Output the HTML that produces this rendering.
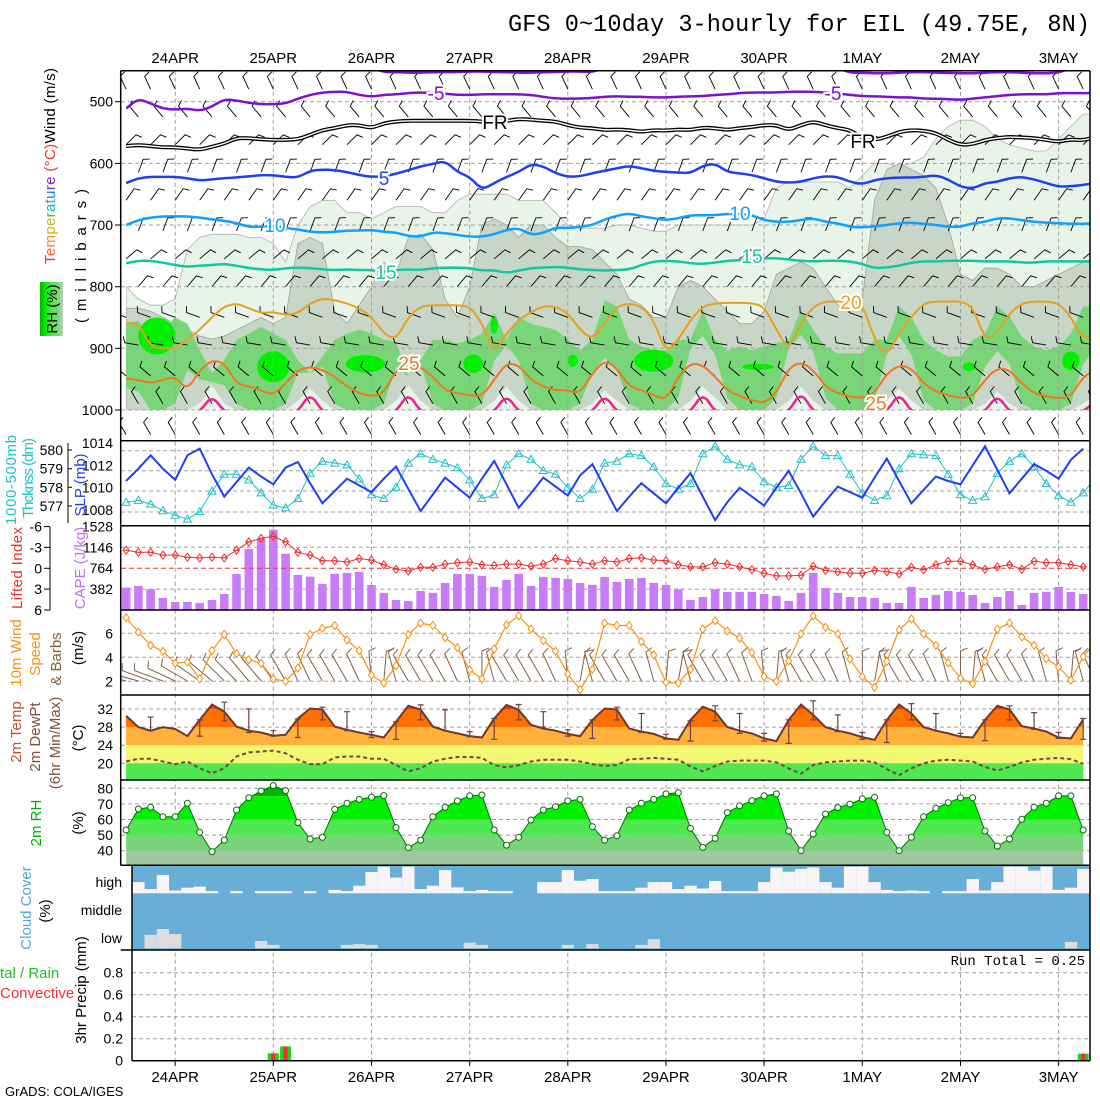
<!DOCTYPE html>
<html><head><meta charset="utf-8">
<style>
html,body{margin:0;padding:0;background:#fff;}
svg{display:block;font-family:"Liberation Sans",sans-serif;}
.tk{font-size:14px;fill:#000;}
.lab{font-size:15px;}
</style></head>
<body>
<svg id="chart" width="1100" height="1100" viewBox="0 0 1100 1100" xmlns="http://www.w3.org/2000/svg">
<defs>
<clipPath id="cMain"><rect x="126" y="70.7" width="964" height="339.3"/></clipPath>
<clipPath id="cMainB"><rect x="121" y="70.7" width="969" height="369.8"/></clipPath>
<clipPath id="cP2"><rect x="121" y="440.7" width="969" height="85"/></clipPath>
<clipPath id="cP4"><rect x="121" y="610" width="969" height="85"/></clipPath>
<clipPath id="cTemp"><path id="tempClipPath" d=""/></clipPath>
<clipPath id="cRH"><path id="rhClipPath" d=""/></clipPath>
<linearGradient id="rhGrad" x1="0" x2="1" y1="0" y2="0">
<stop offset="0" stop-color="#00b400"/><stop offset="0.25" stop-color="#00f000"/><stop offset="0.5" stop-color="#50e850"/><stop offset="0.75" stop-color="#78d478"/><stop offset="1" stop-color="#b8d0b8"/>
</linearGradient>
</defs>

<text x="1090" y="31" text-anchor="end" font-family="Liberation Mono, monospace" font-size="23.6" textLength="582">GFS 0~10day 3-hourly for EIL (49.75E, 8N)</text>

<g id="mainFill" clip-path="url(#cMain)"></g>
<g id="grid"></g>
<g id="mainBarbs" clip-path="url(#cMainB)"></g>
<g id="mainCont" clip-path="url(#cMain)"></g>
<g id="panels"></g>
<g id="frames"></g>
<g id="ticks"></g>

<text class="lab" transform="translate(55,166) rotate(-90)" text-anchor="middle" textLength="196"><tspan fill="#f03020">T</tspan><tspan fill="#f86020">e</tspan><tspan fill="#f89020">m</tspan><tspan fill="#e0b020">p</tspan><tspan fill="#c0c020">e</tspan><tspan fill="#40c040">r</tspan><tspan fill="#10c0a0">a</tspan><tspan fill="#10b0e0">t</tspan><tspan fill="#2070f0">u</tspan><tspan fill="#6040e0">r</tspan><tspan fill="#9020d0">e</tspan><tspan fill="#f03030"> (°C)</tspan><tspan fill="#000">Wind (m/s)</tspan></text>
<text class="lab" transform="translate(86,256) rotate(-90)" text-anchor="middle" textLength="134">(millibars)</text>
<rect x="40" y="282" width="23" height="54" fill="url(#rhGrad)"/>
<text class="lab" transform="translate(57,309) rotate(-90)" text-anchor="middle">RH (%)</text>

<text class="lab" fill="#20c0c8" transform="translate(16,480) rotate(-90)" text-anchor="middle" textLength="90">1000-500mb</text>
<text class="lab" fill="#20c0c8" transform="translate(33,478) rotate(-90)" text-anchor="middle" textLength="80">Thcknss (dm)</text>
<text class="lab" fill="#2040f0" transform="translate(85,485) rotate(-90)" text-anchor="middle">SLP (mb)</text>
<text class="lab" fill="#f03030" transform="translate(22,568) rotate(-90)" text-anchor="middle" textLength="82">Lifted Index</text>
<text class="lab" fill="#c070f0" transform="translate(85,568) rotate(-90)" text-anchor="middle">CAPE (J/kg)</text>
<text class="lab" fill="#f89010" transform="translate(21,653) rotate(-90)" text-anchor="middle">10m Wind</text>
<text class="lab" fill="#f89010" transform="translate(40,654) rotate(-90)" text-anchor="middle">Speed</text>
<text class="lab" fill="#806040" transform="translate(61,659) rotate(-90)" text-anchor="middle">&amp; Barbs</text>
<text class="lab" transform="translate(83,648) rotate(-90)" text-anchor="middle">(m/s)</text>
<text class="lab" fill="#c05030" transform="translate(21,732) rotate(-90)" text-anchor="middle">2m Temp</text>
<text class="lab" fill="#805040" transform="translate(40,737) rotate(-90)" text-anchor="middle">2m DewPt</text>
<text class="lab" fill="#805040" transform="translate(60,743) rotate(-90)" text-anchor="middle">(6hr Min/Max)</text>
<text class="lab" transform="translate(83,738) rotate(-90)" text-anchor="middle">(°C)</text>
<text class="lab" fill="#00b000" transform="translate(41,823) rotate(-90)" text-anchor="middle">2m RH</text>
<text class="lab" transform="translate(83,823) rotate(-90)" text-anchor="middle">(%)</text>
<text class="lab" fill="#50a8d8" transform="translate(31,908) rotate(-90)" text-anchor="middle">Cloud Cover</text>
<text class="lab" transform="translate(50,911) rotate(-90)" text-anchor="middle">(%)</text>
<text class="tk" x="122" y="887" text-anchor="end" font-size="15">high</text>
<text class="tk" x="122" y="915" text-anchor="end" font-size="15">middle</text>
<text class="tk" x="122" y="943" text-anchor="end" font-size="15">low</text>
<text class="lab" transform="translate(86,990) rotate(-90)" text-anchor="middle">3hr Precip (mm)</text>
<text class="lab" fill="#20c020" x="0" y="978">tal / Rain</text>
<text class="lab" fill="#f03030" x="0" y="998">Convective</text>
<text x="1085" y="965" text-anchor="end" font-family="Liberation Mono, monospace" font-size="14">Run Total = 0.25</text>
<text x="5" y="1096" font-size="13">GrADS: COLA/IGES</text>
</svg>
<script>
const dayLabels=['24APR','25APR','26APR','27APR','28APR','29APR','30APR','1MAY','2MAY','3MAY'];
const dayIndex=[4,12,20,28,36,44,52,60,68,76];
const slp=[1010.6,1011.7,1012.9,1011.7,1010.7,1012.9,1013.5,1011.2,1009.2,1010.5,1011.8,1011.0,1010.3,1011.8,1012.3,1010.4,1008.6,1009.7,1010.8,1010.2,1009.6,1010.8,1011.9,1009.9,1007.9,1009.4,1010.9,1010.0,1009.1,1010.8,1012.4,1010.3,1008.2,1009.5,1010.9,1010.1,1009.3,1011.1,1012.1,1010.0,1007.9,1009.2,1010.4,1009.5,1008.6,1010.0,1011.3,1009.2,1007.1,1008.7,1010.0,1009.2,1008.4,1010.0,1011.5,1009.5,1007.4,1008.8,1010.1,1009.6,1009.1,1010.9,1012.6,1010.6,1008.6,1009.8,1011.0,1010.6,1010.3,1012.0,1013.7,1011.6,1009.5,1010.8,1012.1,1011.5,1010.8,1012.5,1013.5];
const thick=[577.2,577.3,577.1,576.75,576.5,576.3,576.7,577.8,578.7,578.7,578.4,577.7,577.05,576.9,577.4,578.75,579.4,579.3,579.2,578.45,577.6,577.4,578.0,579.3,579.8,579.5,579.3,579.05,578.4,577.4,577.6,579.2,579.8,579.5,578.9,578.7,578.0,577.4,577.9,579.3,579.4,579.8,579.7,579.1,578.2,577.9,578.2,579.8,580.2,579.5,579.2,579.1,578.3,578.0,578.1,579.5,580.2,579.7,579.7,578.7,577.7,577.3,577.55,579.0,579.8,579.75,579.7,578.7,577.6,577.3,577.5,578.75,579.4,579.8,579.1,578.2,577.55,577.2,577.7,578.5];
const cape=[409,440,379,220,147,147,128,183,293,660,1118,1302,1467,1027,642,611,477,660,678,697,458,312,183,165,348,312,495,660,660,623,422,550,660,440,605,587,568,495,458,605,513,568,587,495,458,379,183,238,379,330,330,330,293,257,165,312,678,403,312,238,238,220,128,128,422,220,275,348,330,275,128,238,348,92,312,330,422,330,293,300];
const liftedIndex=[-2.6,-2.3,-2.3,-1.9,-1.9,-1.6,-1.5,-1.6,-1.5,-2.6,-3.8,-4.3,-4.6,-3.8,-2.3,-1.9,-1.1,-1.1,-0.9,-1.4,-1.2,-0.5,0.15,0.4,-0.15,-0.15,-0.6,-0.8,-0.9,-0.5,-0.4,-0.6,-0.6,-0.3,-0.6,-1.4,-1.1,-0.9,-0.6,-1.1,-0.9,-1.4,-1.5,-1.2,-1.1,-0.5,-0.2,-0.2,-0.8,-0.6,-0.2,0.2,0.7,1.1,1.1,1.0,-0.3,0.3,0.5,0.7,0.7,0.3,0.5,0.8,-0.15,0.2,-0.5,-1.0,-1.0,-0.5,0.15,-0.2,-0.5,0.15,-1.0,-0.8,-0.8,-0.5,-0.2,-0.5];
const windSpeed=[7.3,6.1,5.0,4.5,3.5,3.6,2.2,4.55,5.9,4.3,3.8,3.5,2.2,2.0,3.1,5.9,6.4,6.65,5.45,4.55,2.5,1.85,3.3,5.9,6.85,6.65,5.65,4.8,2.95,2.2,4.7,6.7,7.45,6.35,5.4,4.5,2.6,1.3,3.0,6.85,6.65,6.65,5.3,4.2,1.9,1.85,3.0,6.35,7.05,6.2,5.6,4.4,2.4,2.0,3.7,5.95,7.45,6.5,5.95,3.85,2.4,1.5,3.65,6.3,7.2,5.95,5.0,3.55,2.25,1.8,3.65,6.35,6.85,5.7,5.0,3.9,3.2,2.1,4.05,5.25];
const windDir=[270,270,275,275,280,285,290,295,300,300,305,305,310,315,320,320,315,315,315,320,340,350,330,315,315,315,315,320,330,345,330,315,315,315,315,320,340,355,330,315,315,315,320,330,350,355,330,315,315,315,320,325,340,350,330,315,315,315,320,330,345,355,330,315,315,315,320,330,345,350,330,315,315,315,320,330,340,350,330,320];
const temp2m=[30.5,28,27.2,28,27.6,26,29.6,33,31.4,28.1,27.2,26.8,26.1,26.3,29.9,32.1,31.9,28.1,27.4,26.8,26.3,25.7,29.2,32.7,31.9,28.1,27.2,26.6,26,25.7,29.9,32.9,31.8,28.5,27.7,27.2,26.5,26,29.6,32.1,31.9,27.7,27,26.5,25.5,25.2,29.6,32.5,31.4,28,27.2,26.6,25.5,24.9,29.6,33,30.7,28,27.2,26.6,25.8,25.2,29.6,33,31,28,27.2,26.6,25.9,25.7,29.6,32.7,31.9,28.2,27.7,27,25.7,25.5,29.7];
const dewpt2m=[20.4,21,21,20.4,19.8,20.4,18.9,17.8,18.9,21.5,22.4,22.6,22.8,22.2,20.8,19.8,19.8,21.3,21.5,21.5,21,21,19.6,18.2,18.9,20.4,21,21.4,21.4,21.2,19.6,19.1,19.6,20.4,20.8,20.8,20.8,20.4,19.8,19.4,19.6,20.9,21,21.2,21,20.8,19.3,18.2,19.4,20.4,20.6,20.6,20.6,20.2,18.9,17.7,19.6,20.2,20.4,20.6,20.6,20.2,18.7,17.4,18.9,20,20.6,20.8,20.6,20.4,19.2,18.4,19.2,20.2,20.8,21,21.2,20.9,19.9];
const minmaxIdx=[2,6,8,10,12,14,16,18,20,22,24,26,28,30,32,34,36,38,40,42,44,46,48,50,52,54,56,58,60,62,64,66,68,70,72,74,76,78];
const tMax=[30.2,29.6,33.5,32,27.2,29.8,32.4,31.4,27,29.2,32.9,31.8,27,29.9,33,31.4,27.4,29.6,32.4,31,26.4,29.4,32.7,31,26.6,29.6,33.8,30.7,26.8,29.6,33.2,31,26.6,29.6,32.7,31.2,26.8,29.9];
const tMin=[27.2,26,29.4,26.8,26,25.7,29.6,27.2,25.7,25.3,29.6,27.2,25.9,25.3,29.6,28,26,25.5,29.6,26.8,25.3,24.9,29.4,26.6,24.9,24.4,29.6,27,25.3,24.6,29.6,27.2,25.9,25,29.6,27.5,25.5,25.3];
const rh2m=[53.3,66.7,67.8,61.8,61.8,70.4,51.8,39.4,46.8,66.1,74,78.3,81.7,78.5,58,47.5,48.6,66.5,70.4,72.9,74.2,75.3,54.8,41.9,46.8,61.8,67.8,71.9,75.1,75.7,53.3,43.6,48.6,59.7,66.1,68.2,71.9,72.9,55.4,46.8,49.6,66.1,70.4,72.9,76.4,77.2,54.3,42.1,47.9,64.4,68.7,72.1,75.1,76.4,52.6,40,50.7,63.5,67.6,69.9,73.2,74.2,51.8,40,48.6,61.8,67.2,70.8,74,74,52.6,43,47.5,60.1,67.8,70.4,75.1,75.1,53.3];
const highCloud=[0,0.4,0.15,0.65,0.1,0.2,0.24,0.08,0,0.08,0,0.08,0.08,0.08,0,0.08,0,0.12,0.08,0.27,0.76,0.95,0.56,0.95,0.15,0.27,0.83,0.21,0.08,0.12,0.08,0.08,0,0,0.4,0.4,0.83,0.45,0.51,0.08,0.08,0.08,0.2,0.4,0.4,0.15,0.27,0.17,0.44,0.08,0.08,0.08,0.4,0.92,0.77,0.87,0.92,0.4,0.2,0.95,0.95,0.4,0.12,0.08,0.1,0.08,0,0.08,0.08,0.51,0.1,0.4,0.95,0.95,0.81,0.95,0.12,0.2,0.87];
const lowCloud=[0,0,0.48,0.69,0.51,0,0,0,0,0,0,0.26,0.12,0,0,0,0,0,0.12,0.15,0.12,0,0,0,0,0,0,0,0.2,0.12,0,0,0,0,0,0,0.12,0,0.15,0,0,0,0.12,0.33,0,0,0,0,0,0,0,0,0,0,0,0,0,0,0,0,0,0,0,0,0,0,0,0,0,0,0,0,0,0,0,0,0,0.23,0];
const precipTotal=[0,0,0,0,0,0,0,0,0,0,0,0,0.067,0.13,0,0,0,0,0,0,0,0,0,0,0,0,0,0,0,0,0,0,0,0,0,0,0,0,0,0,0,0,0,0,0,0,0,0,0,0,0,0,0,0,0,0,0,0,0,0,0,0,0,0,0,0,0,0,0,0,0,0,0,0,0,0,0,0,0.064];
const precipConv=[0,0,0,0,0,0,0,0,0,0,0,0,0.067,0.13,0,0,0,0,0,0,0,0,0,0,0,0,0,0,0,0,0,0,0,0,0,0,0,0,0,0,0,0,0,0,0,0,0,0,0,0,0,0,0,0,0,0,0,0,0,0,0,0,0,0,0,0,0,0,0,0,0,0,0,0,0,0,0,0,0.064];
const rhLightTop=[800,820,830,830,820,740,720,715,715,715,720,720,730,760,700,670,660,660,680,680,690,680,670,670,670,680,680,660,650,650,650,650,660,660,660,680,700,705,705,705,700,700,705,710,710,700,700,700,700,700,700,700,690,640,630,630,630,630,630,640,620,600,600,605,600,590,560,540,530,530,540,560,570,575,580,580,560,540,520,520];
const rhGreyTop=[835,835,840,850,860,870,880,885,880,870,860,850,860,850,730,720,730,840,860,830,800,760,780,720,715,740,820,850,800,700,690,700,720,700,700,720,735,735,740,760,780,820,830,850,850,800,790,800,820,840,860,860,840,780,770,760,770,800,830,840,820,660,610,600,610,620,640,700,780,790,770,770,780,800,800,790,780,770,760,760];
const rhGreenTop=[860,855,880,870,850,860,903,940,919,886,876,865,876,886,919,940,913,886,876,870,876,886,889,946,919,886,886,892,886,876,843,886,849,860,865,870,886,903,886,822,832,886,897,903,903,886,886,838,886,903,897,903,897,892,886,838,870,897,908,908,908,886,886,832,849,886,903,913,913,886,876,832,849,881,897,903,897,876,832,832];
const rhGreenBot=[965,970,1000,1000,990,935,950,955,960,990,1000,1000,1000,990,940,915,930,990,1000,1000,1000,990,930,905,925,990,1000,1000,1000,990,920,895,920,990,1000,1000,1000,990,940,915,935,990,1000,1000,1000,980,900,880,910,980,1000,1000,1000,980,900,878,905,980,1000,1000,1000,985,910,880,910,985,1000,1000,1000,990,930,905,925,990,1000,1000,1000,990,925,900];
const rhPaleTop=[1000,1000,1000,1000,1000,1000,990,960,990,1000,1000,1000,1000,1000,985,965,985,1000,1000,1000,1000,1000,985,960,985,1000,1000,1000,1000,1000,985,962,985,1000,1000,1000,1000,1000,990,968,985,1000,1000,1000,1000,1000,985,962,980,1000,1000,1000,1000,1000,985,962,985,1000,1000,1000,1000,1000,985,965,985,1000,1000,1000,1000,1000,990,970,990,1000,1000,1000,1000,1000,990,975];
const limeIdx=[2.5,12,19.5,28.3,30,36.4,43,51.5,68.7,77];
const limeP=[880,930,925,925,862,920,920,930,930,920];
const limeHalfSteps=[1.5,1.3,1.6,0.8,0.3,0.4,1.6,1.3,0.5,0.7];
const limeHalfMb=[30,25,14,15,14,10,18,5,7,15];
const isoM10=[445,445,445,445,445,445,445,445,445,445,445,445,445,445,445,445,445,445,445,445,445,452,452,453,453,452,452,452,451,451,452,452,453,453,452,452,451,451,452,445,445,445,445,445,445,445,445,445,445,445,445,445,445,445,445,445,445,445,445,453,453,454,454,453,452,452,453,453,454,454,453,452,452,453,454,454,453,445,445,445];
const isoM5=[511,495,503,511,513,511,515,508,496,498,502,504,504,503,495,489,485,484,484,489,492,489,488,486,485,486,487,489,489,488,488,488,488,489,492,495,495,495,494,492,491,492,492,493,493,492,491,491,489,488,486,485,485,485,484,484,484,485,487,489,491,491,492,493,493,495,495,496,497,495,493,491,489,488,488,488,486,486,486,486];
const iso0=[572,570,572,574,574,576,578,573,568,559,559,561,562,562,561,554,546,543,538,538,543,535,532,531,531,531,531,531,531,532,535,531,528,529,531,532,538,542,543,546,545,546,549,546,547,545,546,542,543,546,543,541,538,538,546,538,532,538,543,546,559,562,557,549,546,547,551,562,570,569,562,559,557,558,559,562,565,561,563,557];
const iso5=[632,624,622,622,622,624,628,626,624,623,621,619,619,622,623,612,610,611,614,619,622,621,617,611,605,601,596,614,622,643,632,622,614,601,605,616,622,621,616,612,608,604,608,612,614,615,616,604,600,614,616,619,624,630,631,630,624,621,622,630,634,627,624,623,623,622,619,626,638,641,632,630,624,622,626,632,638,637,635,632];
const iso10=[700,692,688,686,686,686,688,691,693,697,703,703,700,705,707,711,712,711,709,709,708,711,712,718,719,712,713,716,719,719,715,708,705,716,713,704,705,703,700,691,685,681,686,689,692,689,684,684,684,682,682,684,692,695,695,692,689,695,697,703,704,702,700,697,696,698,700,703,703,697,695,689,689,692,695,696,697,698,698,697];
const iso15=[762,758,758,761,765,768,766,765,763,766,770,772,773,770,769,770,772,773,772,773,773,776,773,772,773,770,769,769,770,774,773,778,774,770,769,768,769,772,773,774,773,772,765,759,758,759,762,763,761,758,757,756,754,754,756,758,759,758,758,759,763,770,769,766,761,759,759,758,758,758,759,759,759,761,761,759,759,759,759,759];
const iso20=[859,859,897,900,900,886,870,849,832,827,835,843,841,846,843,827,819,822,827,835,849,876,886,849,832,830,830,830,832,859,908,876,854,841,832,832,843,870,886,859,832,827,832,854,908,886,854,832,827,826,826,827,832,870,903,859,832,824,824,824,827,886,913,876,849,827,824,824,824,832,886,876,843,827,824,824,827,849,886,876];
const iso25=[949,951,957,951,946,968,935,919,924,957,962,968,976,957,935,930,935,946,962,973,978,973,935,927,930,946,968,973,976,978,951,924,927,951,962,968,968,973,941,919,932,962,968,976,984,946,924,927,946,968,978,984,989,973,932,922,935,962,973,978,981,973,941,927,932,957,970,976,981,978,951,932,935,957,973,978,981,978,946,935];
const iso30=[1010,1010,1010,1010,1010,1010,1003,976,1003,1010,1010,1010,1010,1010,1003,972,1003,1010,1010,1010,1010,1010,1003,972,1003,1010,1010,1010,1010,1010,1003,975,1003,1010,1010,1010,1010,1010,1003,975,1003,1010,1010,1010,1010,1010,1003,972,1003,1010,1010,1010,1010,1010,1003,970,1003,1010,1010,1010,1010,1010,1003,972,1003,1010,1010,1010,1010,1010,1003,975,1003,1010,1010,1010,1010,1010,1003,985];
const barbLevels=[470,515,560,605,650,700,745,790,840,885,935,980,1030];
const barbLevelDir=[335,320,45,20,35,20,50,40,290,280,310,330,330];
const mainTicks=[500,600,700,800,900,1000];
const slpTicks=[1014,1012,1010,1008];
const thickTicks=[580,579,578,577];
const capeTicks=[1528,1146,764,382];
const liTicks=[-6,-3,0,3,6];
const windTicks=[6,4,2];
const tempTicks=[32,28,24,20];
const rhTicks=[80,70,60,50,40];
const precipTicks=[0.8,0.6,0.4,0.2,0];
const precipTickText=['0.8','0.6','0.4','0.2','0'];

const X0=126.1, DX=12.27;
function xOf(i){return X0+DX*i;}
function pY(p){return 101.7+(p-500)*0.6166;}
function slpY(v){return 443+(1014-v)*11.17;}
function thkY(v){return 450+(580-v)*18.67;}
function capeY(v){return 610-v/382*20.9;}
function liY(v){return 568.3+v*6.95;}
function wsY(v){return 633.3+(6-v)*12;}
function tY(v){return 709+(32-v)*4.525;}
function rhY(v){return 788.3+(80-v)*1.56;}
function prY(v){return 1060.7-v*110;}

const NS='http://www.w3.org/2000/svg';
function mk(tag,parent){const e=document.createElementNS(NS,tag);parent.appendChild(e);return e;}
function at(e,o){for(const k in o)e.setAttribute(k,o[k]);return e;}
function f(v){return v.toFixed(1);}
function linePath(vals,yf){return vals.map((v,k)=>(k?'L':'M')+f(xOf(k))+','+f(yf(v))).join('');}
function smoothPath(vals,yf){let d='M'+f(xOf(0))+','+f(yf(vals[0]));for(let k=1;k<vals.length;k++){const x0=xOf(k-1),y0=yf(vals[k-1]),x1=xOf(k),y1=yf(vals[k]);d+='Q'+f(x0)+','+f(y0)+' '+f((x0+x1)/2)+','+f((y0+y1)/2);}d+='L'+f(xOf(vals.length-1))+','+f(yf(vals[vals.length-1]));return d;}
function bandPath(top,bot){let d='';for(let k=0;k<top.length;k++)d+=(k?'L':'M')+f(xOf(k))+','+f(pY(top[k]));for(let k=bot.length-1;k>=0;k--)d+='L'+f(xOf(k))+','+f(pY(Math.max(bot[k],top[k])));return d+'Z';}
const ones=rhLightTop.map(()=>1000);

const gF=document.getElementById('mainFill');
let e;
e=mk('path',gF);at(e,{d:bandPath(rhLightTop,ones),fill:'#e8f4e8',stroke:'#b0b0b0','stroke-width':0.8});


e=mk('path',gF);at(e,{d:bandPath(rhGreyTop,ones),fill:'#c8d6c8',stroke:'#a0a0a0','stroke-width':0.8});


e=mk('path',gF);at(e,{d:bandPath(rhGreenTop,rhGreenBot),fill:'#78d678'});


e=mk('path',gF);at(e,{d:bandPath(rhPaleTop,ones),fill:'#e8f4e8'});


for(let k=0;k<limeIdx.length;k++){
  e=mk('ellipse',gF);
  at(e,{cx:f(xOf(limeIdx[k])),cy:f(pY(limeP[k])),rx:f(limeHalfSteps[k]*DX),ry:f(limeHalfMb[k]*0.6166),fill:'#00f000'});
  
  
}

const gG=document.getElementById('grid');
function hgrid(y,x1,x2,color,dash,name){const l=mk('line',gG);at(l,{x1:x1,x2:x2,y1:f(y),y2:f(y),stroke:color||'#a0a0a0','stroke-width':1,'stroke-dasharray':dash||'4,3'});return l;}
mainTicks.forEach(p=>hgrid(pY(p),121,1090,null,null,'pressure-gridline'));
[450.7,470.7,491,512].forEach(y=>hgrid(y,121,1090,null,null,'slp-gridline'));
capeTicks.slice(1).forEach(v=>{if(v!==764)hgrid(capeY(v),121,1090,null,null,'cape-gridline');});
windTicks.forEach(v=>hgrid(wsY(v),121,1090,null,null,'wind-gridline'));
tempTicks.forEach(v=>hgrid(tY(v),121,1090,null,null,'temp-gridline'));
rhTicks.forEach(v=>hgrid(rhY(v),121,1090,null,null,'rh-gridline'));
precipTicks.slice(0,4).forEach(v=>hgrid(prY(v),132,1090,null,null,'precip-gridline'));

const gB=document.getElementById('mainBarbs');
function barb(g,x,y,dir,L,fl,color,w,name){
  const r=dir*Math.PI/180, ux=Math.sin(r), uy=-Math.cos(r);
  const tx=x+ux*L, ty=y+uy*L;
  const p=mk('path',g);
  at(p,{d:'M'+f(x)+','+f(y)+'L'+f(tx)+','+f(ty)+'L'+f(tx-uy*fl+ux*fl*0.4)+','+f(ty+ux*fl+uy*fl*0.4),fill:'none',stroke:color,'stroke-width':w});
  
  
}
barbLevels.forEach((lv,r)=>{
  for(let i=(r%2);i<80;i+=2){barb(gB,xOf(i),pY(lv)+6,barbLevelDir[r],14,6,'#000',0.9,'upper-barb');}
});

const gC=document.getElementById('mainCont');
function iso(vals,color,w,name){const p=mk('path',gC);at(p,{d:smoothPath(vals,pY),fill:'none',stroke:color,'stroke-width':w,'stroke-linejoin':'round'});return p;}
iso(isoM10,'#8010d0',2.5,'isotherm-minus10');
iso(isoM5,'#8010d0',2.5,'isotherm-minus5');
iso(iso0,'#000',4,'isotherm-freezing-outer');
iso(iso0,'#fff',1.4,'isotherm-freezing-inner');
iso(iso5,'#2040f0',2.5,'isotherm-5');
iso(iso10,'#10a0ff',2.5,'isotherm-10');
iso(iso15,'#10c8a0',2.5,'isotherm-15');
iso(iso20,'#e8a020',2,'isotherm-20');
iso(iso25,'#f07820',2,'isotherm-25');
iso(iso30,'#f0208c',2.5,'isotherm-30');
function clab(x,y,t,color,name){const s=mk('text',gC);at(s,{x:x,y:y,'font-size':19,fill:color,'text-anchor':'middle',stroke:'#fff','stroke-width':4,'paint-order':'stroke'});s.textContent=t;}
clab(436,100,'-5','#8010d0','label-minus5');clab(833,100,'-5','#8010d0','label-minus5');
clab(495,129,'FR','#000','label-freezing');clab(863,148,'FR','#000','label-freezing');
clab(384,185,'5','#2040f0','label-5');
clab(275,232,'10','#10a0ff','label-10');clab(740,220,'10','#10a0ff','label-10');
clab(386,279,'15','#10c8a0','label-15');clab(752,263,'15','#10c8a0','label-15');
clab(851,309,'20','#e8a020','label-20');
clab(409,370,'25','#f07820','label-25');clab(876,410,'25','#f07820','label-25');

const gP=document.getElementById('panels');
const g2=mk('g',gP);g2.setAttribute('clip-path','url(#cP2)');
e=mk('path',g2);at(e,{d:linePath(thick,thkY),fill:'none',stroke:'#20c0c8','stroke-width':1});


thick.forEach((v,i)=>{const x=xOf(i),y=thkY(v);const t=mk('path',g2);at(t,{d:'M'+f(x)+','+f(y-4)+'L'+f(x+4)+','+f(y+3)+'L'+f(x-4)+','+f(y+3)+'Z',fill:'none',stroke:'#20c0c8','stroke-width':1});

});
e=mk('path',g2);at(e,{d:linePath(slp,slpY),fill:'none',stroke:'#2040f0','stroke-width':2});


cape.forEach((v,i)=>{if(xOf(i)>1088)return;const b=mk('rect',gP);at(b,{x:f(xOf(i)-4.3),y:f(capeY(v)),width:8.6,height:f(610-capeY(v)),fill:'#c87cf8'});

});
e=mk('line',gP);at(e,{x1:121,x2:1090,y1:f(liY(0)),y2:f(liY(0)),stroke:'#f03030','stroke-width':1,'stroke-dasharray':'5,3'});


e=mk('path',gP);at(e,{d:linePath(liftedIndex.slice(0,79),liY),fill:'none',stroke:'#f03030','stroke-width':1});


liftedIndex.forEach((v,i)=>{if(xOf(i)>1090)return;const x=xOf(i),y=liY(v);const d=mk('path',gP);at(d,{d:'M'+f(x)+','+f(y-4)+'L'+f(x+3)+','+f(y)+'L'+f(x)+','+f(y+4)+'L'+f(x-3)+','+f(y)+'ZM'+f(x-3)+','+f(y)+'L'+f(x+3)+','+f(y),fill:'none',stroke:'#f03030','stroke-width':1});

});
const g4=mk('g',gP);g4.setAttribute('clip-path','url(#cP4)');
windDir.forEach((d,i)=>{barb(g4,xOf(i),681,d+15,30,7,'#806040',1,'surface-barb');});
e=mk('path',g4);at(e,{d:linePath(windSpeed,wsY),fill:'none',stroke:'#f89010','stroke-width':1.2});


windSpeed.forEach((v,i)=>{const x=xOf(i),y=wsY(v);const d=mk('path',g4);at(d,{d:'M'+f(x)+','+f(y-4)+'L'+f(x+3)+','+f(y)+'L'+f(x)+','+f(y+4)+'L'+f(x-3)+','+f(y)+'Z',fill:'#fff',stroke:'#f89010','stroke-width':1});

});
let td='M'+f(xOf(0))+',780';temp2m.forEach((v,i)=>{td+='L'+f(xOf(i))+','+f(tY(v));});td+='L'+f(xOf(temp2m.length-1))+',780Z';
document.getElementById('tempClipPath').setAttribute('d',td);
const gT=mk('g',gP);gT.setAttribute('clip-path','url(#cTemp)');
const tBands=[[40,32,'#ee3a10'],[32,28,'#ff7000'],[28,24,'#ffb13c'],[24,20,'#f4f870'],[20,10,'#50e850']];
tBands.forEach(b=>{const r=mk('rect',gT);at(r,{x:121,width:969,y:f(tY(b[0])),height:f(tY(b[1])-tY(b[0])),fill:b[2]});

});
e=mk('path',gP);at(e,{d:linePath(dewpt2m,tY),fill:'none',stroke:'#704848','stroke-width':2,'stroke-dasharray':'4,3'});


e=mk('path',gP);at(e,{d:linePath(temp2m,tY),fill:'none',stroke:'#703828','stroke-width':2});


minmaxIdx.forEach((i,k)=>{const x=xOf(i),y1=tY(tMax[k]),y2=tY(tMin[k]);const p=mk('path',gP);at(p,{d:'M'+f(x-3)+','+f(y1)+'H'+f(x+3)+'M'+f(x)+','+f(y1)+'V'+f(y2)+'M'+f(x-3)+','+f(y2)+'H'+f(x+3),stroke:'#704040','stroke-width':1.2,fill:'none'});

});
let rd='M'+f(xOf(0))+',865';rh2m.forEach((v,i)=>{rd+='L'+f(xOf(i))+','+f(rhY(v));});rd+='L'+f(xOf(rh2m.length-1))+',865Z';
document.getElementById('rhClipPath').setAttribute('d',rd);
const gR=mk('g',gP);gR.setAttribute('clip-path','url(#cRH)');
const rBands=[[100,75,'#00b400'],[75,60,'#00f000'],[60,50,'#50e850'],[50,40,'#78d478'],[40,0,'#a0c8a0']];
rBands.forEach(b=>{const r=mk('rect',gR);at(r,{x:121,width:969,y:f(rhY(b[0])),height:f(rhY(b[1])-rhY(b[0])),fill:b[2]});

});
e=mk('path',gP);at(e,{d:linePath(rh2m,rhY),fill:'none',stroke:'#007000','stroke-width':1});


rh2m.forEach((v,i)=>{const c=mk('circle',gP);at(c,{cx:f(xOf(i)),cy:f(rhY(v)),r:3,fill:'#fff',stroke:'#007000','stroke-width':1});

});
e=mk('rect',gP);at(e,{x:132,y:865.3,width:958,height:84.7,fill:'#68aed6'});


highCloud.forEach((v,i)=>{if(!v)return;const w=Math.min(12.3,1090-(xOf(i)-6.1));const r=mk('rect',gP);at(r,{x:f(xOf(i)-6.1),y:f(893.3-v*28),width:f(w),height:f(v*28),fill:'#f8f4f8'});

});
lowCloud.forEach((v,i)=>{if(!v)return;const r=mk('rect',gP);at(r,{x:f(xOf(i)-6.1),y:f(948.3-v*28),width:12.3,height:f(v*28),fill:'#dcdcdc'});

});
[893.3,920.3,948.3].forEach(y=>hgrid(y,132,1090,'#909090',null,'cloud-gridline'));
precipTotal.forEach((v,i)=>{if(!v)return;const r=mk('rect',gP);at(r,{x:f(xOf(i)-5.5),y:f(prY(v)),width:11,height:f(v*110),fill:'#20d020'});

});
precipConv.forEach((v,i)=>{if(!v)return;const r=mk('rect',gP);at(r,{x:f(xOf(i)-2),y:f(prY(v)),width:4,height:f(v*110),fill:'#f03030'});

});

const gK=document.getElementById('ticks');
dayIndex.forEach((i,k)=>{const x=xOf(i);
 const l=mk('line',gG);at(l,{x1:f(x),x2:f(x),y1:70.7,y2:1060.7,stroke:'#a0a0a0','stroke-width':1,'stroke-dasharray':'4,3'});
 
 
 const t1=mk('text',gK);at(t1,{x:f(x),y:63,'text-anchor':'middle','font-size':15});t1.textContent=dayLabels[k];
 
 
 const t2=mk('text',gK);at(t2,{x:f(x),y:1082,'text-anchor':'middle','font-size':15});t2.textContent=dayLabels[k];
 
 
 const tk=mk('line',gK);at(tk,{x1:f(x),x2:f(x),y1:1060.7,y2:1066,stroke:'#000'});
 
 
});

const gFr=document.getElementById('frames');
function fl(x1,y1,x2,y2,w,name){const l=mk('line',gFr);at(l,{x1:x1,y1:y1,x2:x2,y2:y2,stroke:'#000','stroke-width':w||1.5});}
fl(120.7,70.7,1090,70.7,1.5,'main-top-border');
fl(120.7,70.7,120.7,865.3,1.5,'left-border');
fl(1090,70.7,1090,1060.7,1.5,'right-border');
[440.7,525.7,610,695,780,865.3,950].forEach(y=>fl(120.7,y,1090,y,1.5,'panel-divider'));
fl(132,865.3,132,1060.7,1.5,'lower-left-border');
fl(132,1060.7,1090,1060.7,1.5,'precip-x-axis');
fl(68,443,68,523,1,'thickness-axis');
fl(50,527,50,610,1,'li-axis');

function tl(x,y,t,name){const s=mk('text',gK);at(s,{x:x,y:f(y+5),'text-anchor':'end','font-size':14,fill:'#000'});s.textContent=t;}
function tm(x1,x2,y,name){const l=mk('line',gK);at(l,{x1:x1,x2:x2,y1:f(y),y2:f(y),stroke:'#000'});}
mainTicks.forEach(p=>{tl(113,pY(p),String(p),'pressure-tick-label');tm(115,121,pY(p),'pressure-tick');});
slpTicks.forEach(v=>tl(113,slpY(v),String(v),'slp-tick-label'));
thickTicks.forEach(v=>{tl(63,thkY(v),String(v),'thickness-tick-label');tm(68,72,thkY(v),'thickness-tick');});
capeTicks.forEach(v=>tl(113,capeY(v),String(v),'cape-tick-label'));
liTicks.forEach(v=>{tl(42,liY(v),String(v),'li-tick-label');tm(44,50,liY(v),'li-tick');});
windTicks.forEach(v=>tl(113,wsY(v),String(v),'wind-tick-label'));
tempTicks.forEach(v=>tl(113,tY(v),String(v),'temp-tick-label'));
rhTicks.forEach(v=>tl(113,rhY(v),String(v),'rh-tick-label'));
precipTicks.forEach((v,k)=>{tl(123,prY(v),precipTickText[k],'precip-tick-label');});
</script>
</body></html>
